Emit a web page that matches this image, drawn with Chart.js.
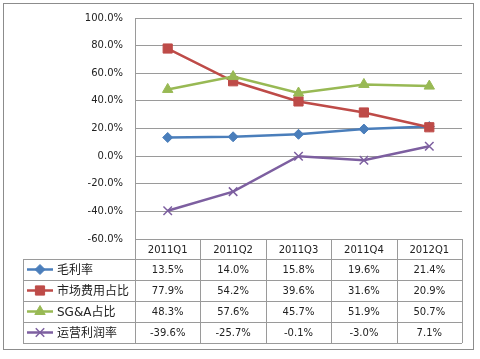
<!DOCTYPE html>
<html>
<head>
<meta charset="utf-8">
<script src="https://cdn.jsdelivr.net/npm/chart.js@4/dist/chart.umd.min.js"></script>
<style>
  body { margin: 0; background: #fff; }
  canvas { display: block; }
</style>
</head>
<body>
<canvas id="myChart" width="480" height="359"></canvas>
<script>
const quarters = ['2011Q1', '2011Q2', '2011Q3', '2011Q4', '2012Q1'];
const grossMargin = [13.5, 14.0, 15.8, 19.6, 21.4];
const marketingRatio = [77.9, 54.2, 39.6, 31.6, 20.9];
const sgaRatio = [48.3, 57.6, 45.7, 51.9, 50.7];
const opMargin = [-39.6, -25.7, -0.1, -3.0, 7.1];
const seriesNames = ['毛利率', '市场费用占比', 'SG&A占比', '运营利润率'];

const numFont = '10px "DejaVu Sans"';
const cjkFont = '12px "DejaVu Sans", "Noto Sans CJK SC"';
const lineGray = '#9a9a9a';

function pct(v) { return v.toFixed(1) + '%'; }

// data table under the plot, Excel style
const tablePlugin = {
    id: 'dataTable',
    afterDraw(chart) {
        const ctx = chart.ctx;
        const area = chart.chartArea;
        const xs = chart.scales.x;
        const n = quarters.length;
        const colW = (area.right - area.left) / n;
        const top = area.bottom;
        const headH = 20;
        const rowH = 21;
        const legendLeft = 23;
        const bottom = top + headH + rowH * chart.data.datasets.length;

        ctx.save();
        ctx.strokeStyle = lineGray;
        ctx.lineWidth = 1;
        ctx.beginPath();
        // column lines
        for (let i = 0; i <= n; i++) {
            const x = Math.round(area.left + i * colW) + 0.5;
            ctx.moveTo(x, top);
            ctx.lineTo(x, bottom);
        }
        ctx.moveTo(legendLeft + 0.5, top + headH);
        ctx.lineTo(legendLeft + 0.5, bottom);
        // row lines
        for (let r = 0; r <= chart.data.datasets.length; r++) {
            const y = top + headH + r * rowH + 0.5;
            ctx.moveTo(legendLeft, y);
            ctx.lineTo(area.right, y);
        }
        ctx.stroke();

        ctx.fillStyle = '#222';
        ctx.textAlign = 'center';
        ctx.textBaseline = 'middle';
        ctx.font = numFont;
        quarters.forEach((q, i) => {
            ctx.fillText(q, xs.getPixelForValue(i), top + headH / 2 + 1);
        });

        chart.data.datasets.forEach((ds, r) => {
            const cy = top + headH + r * rowH + rowH / 2 + 1;
            ctx.font = numFont;
            ctx.textAlign = 'center';
            ds.data.forEach((v, i) => {
                ctx.fillText(pct(v), xs.getPixelForValue(i), cy);
            });
            // legend key
            ctx.strokeStyle = ds.borderColor;
            ctx.lineWidth = 2.5;
            ctx.beginPath();
            ctx.moveTo(27, cy - 1);
            ctx.lineTo(53, cy - 1);
            ctx.stroke();
            ctx.fillStyle = ds.pointBackgroundColor;
            ctx.strokeStyle = ds.borderColor;
            ctx.lineWidth = ds.pointBorderWidth;
            Chart.helpers.drawPoint(ctx, {
                pointStyle: ds.pointStyle,
                radius: ds.pointRadius,
                borderWidth: ds.pointBorderWidth
            }, 40, cy - 1);
            ctx.fillStyle = '#222';
            ctx.textAlign = 'left';
            ctx.font = cjkFont;
            ctx.fillText(seriesNames[r], 57, cy);
        });

        // outer frame
        ctx.strokeStyle = '#8c8c8c';
        ctx.lineWidth = 1;
        ctx.strokeRect(3.5, 3.5, 470, 346);
        ctx.restore();
    }
};

function makeSet(label, data, color, style, radius, order) {
    return {
        label: label,
        data: data,
        borderColor: color,
        backgroundColor: color,
        pointBackgroundColor: color,
        pointBorderColor: color,
        pointStyle: style,
        pointRadius: radius,
        pointBorderWidth: style === 'crossRot' ? 1.5 : 1,
        borderWidth: 2.5,
        tension: 0,
        order: order
    };
}

const ctx = document.getElementById('myChart').getContext('2d');
const myChart = new Chart(ctx, {
    type: 'line',
    data: {
        labels: quarters,
        datasets: [
            makeSet(seriesNames[0], grossMargin, '#4a7ebb', 'rectRot', 5, 4),
            makeSet(seriesNames[1], marketingRatio, '#be4b48', 'rect', 6.5, 3),
            makeSet(seriesNames[2], sgaRatio, '#98b954', 'triangle', 6, 2),
            makeSet(seriesNames[3], opMargin, '#7d5fa0', 'crossRot', 6, 1)
        ]
    },
    options: {
        responsive: false,
        animation: false,
        layout: {
            padding: { top: 15, right: 18, bottom: 120, left: 0 }
        },
        plugins: {
            legend: { display: false },
            tooltip: { enabled: false }
        },
        scales: {
            x: {
                display: false,
                offset: true
            },
            y: {
                min: -60,
                max: 100,
                afterFit: function(scale) { scale.width = 135; },
                ticks: {
                    stepSize: 20,
                    padding: 12,
                    color: '#222',
                    font: { family: 'DejaVu Sans', size: 10 },
                    callback: function(value) { return pct(value); }
                },
                grid: {
                    color: lineGray,
                    drawTicks: false
                },
                border: { color: lineGray }
            }
        }
    },
    plugins: [tablePlugin]
});
</script>
</body>
</html>
